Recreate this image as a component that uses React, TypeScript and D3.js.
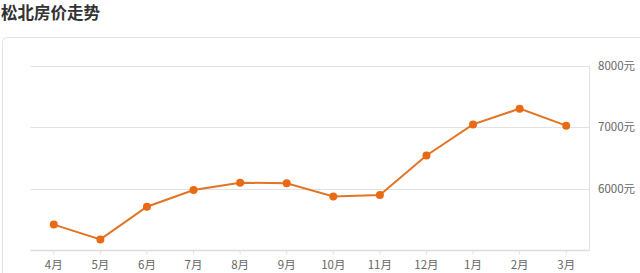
import React from "react";
import * as d3 from "d3";

const title = "松北房价走势";
const months = ["4月", "5月", "6月", "7月", "8月", "9月", "10月", "11月", "12月", "1月", "2月", "3月"];
const prices = [5420, 5180, 5710, 5980, 6100, 6090, 5875, 5900, 6540, 7045, 7300, 7025];
const yTicks = [6000, 7000, 8000];
const yUnit = "元";

const W = 640;
const H = 273;
const left = 30.5;
const right = 589.5;
const top = 65.5;
const bottom = 250.5;

export default function App() {
  const x = d3.scalePoint<string>().domain(months).range([left, right]).padding(0.5);
  const y = d3.scaleLinear().domain([5000, 8000]).range([bottom, top]);
  const line = d3
    .line<number>()
    .x((_, i) => x(months[i]) as number)
    .y((d) => y(d));
  const font = "'Noto Sans CJK SC', 'Noto Sans', sans-serif";
  return (
    <svg
      width={W}
      height={H}
      style={{ position: "absolute", left: 0, top: 0, background: "#fff" }}
      fontFamily={font}
    >
      <text x={1} y={19} fontSize={16.5} fontWeight="bold" fill="#333">
        {title}
      </text>
      <rect x={2.5} y={37.5} width={700} height={300} rx={4} fill="#fff" stroke="#e3e3e3" />
      {yTicks.map((t) => (
        <g key={t}>
          <line x1={left} x2={right} y1={Math.round(y(t)) + 0.5} y2={Math.round(y(t)) + 0.5} stroke="#e2e2e2" />
          <text x={598} y={y(t)} dy="0.35em" fontSize={11.5} fill="#666">
            {t + yUnit}
          </text>
        </g>
      ))}
      <line x1={right} x2={right} y1={top} y2={bottom} stroke="#e2e2e2" />
      <line x1={left} x2={right} y1={bottom} y2={bottom} stroke="#dcdcdc" strokeWidth={1.5} />
      {months.map((m) => (
        <g key={m}>
          <line x1={x(m)} x2={x(m)} y1={bottom} y2={bottom + 4} stroke="#e2e2e2" />
          <text x={x(m)} y={269} textAnchor="middle" fontSize={11.5} fill="#666">
            {m}
          </text>
        </g>
      ))}
      <path d={line(prices) || ""} fill="none" stroke="#e27425" strokeWidth={2} />
      {prices.map((p, i) => (
        <circle key={i} cx={x(months[i])} cy={y(p)} r={4} fill="#ea6a14" />
      ))}
    </svg>
  );
}
